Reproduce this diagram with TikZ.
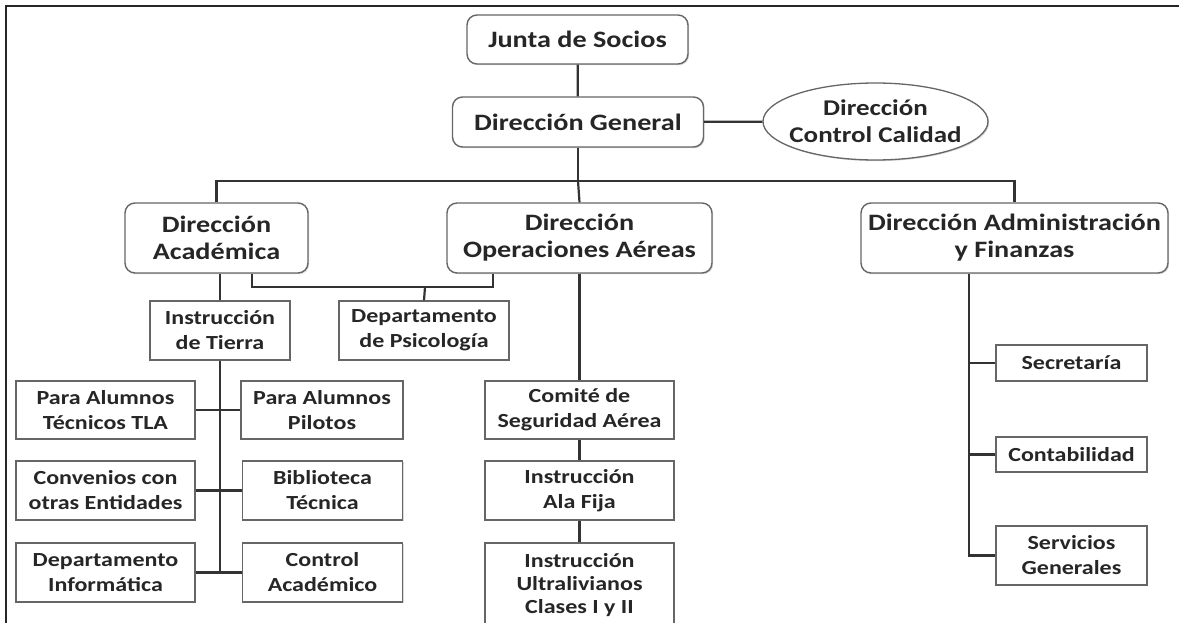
\documentclass[tikz,border=0pt]{standalone}
\usepackage{fontspec}
\setmainfont{Carlito}[FakeStretch=1.2]
\usetikzlibrary{shapes.geometric,shadows}
\tikzset{
  wh/.style 2 args={minimum width=#1pt, minimum height=#2pt},
  boxshadow/.style={drop shadow={shadow xshift=1.2pt, shadow yshift=-1.2pt, opacity=.3}},
  topbox/.style={draw=black!60, line width=1.4pt, rounded corners=10pt, fill=white, boxshadow,
    inner sep=0pt, align=center, text=black!85, font=\bfseries\fontsize{23.5}{27}\selectfont},
  unitbox/.style={draw=black!60, line width=1.3pt, fill=white, boxshadow,
    inner sep=0pt, align=center, text=black!85, font=\bfseries\fontsize{20}{25}\selectfont},
  ovalbox/.style={ellipse, draw=black!60, line width=1.3pt, fill=white, boxshadow, inner sep=0pt},
  conn/.style={draw=black!80, line width=2.2pt}
}
\begin{document}
\begin{tikzpicture}[x=1pt,y=-1pt]
\useasboundingbox (0,0) rectangle (1179,623);
\clip (0,0) rectangle (1179,623);
\draw[line width=2pt, black!85] (1179,6) -- (6,6) -- (6,623);

\node[topbox, wh={221}{49}] (junta) at (577.5,39.5) {Junta de Socios};
\node[topbox, wh={251}{50}] (dirgen) at (578,122) {Dirección General};
\node[ovalbox, wh={225}{77}, label={[align=center, text=black!85, font=\bfseries\fontsize{22.5}{27}\selectfont]center:Dirección\\Control Calidad}] (calidad) at (875.5,121.5) {};
\node[topbox, wh={183}{70}] (dirac) at (216.5,238) {Dirección\\Académica};
\node[topbox, wh={265}{70}] (dirop) at (579.5,238) {Dirección\\Operaciones Aéreas};
\node[topbox, wh={307}{70}] (diradm) at (1014.5,238) {Dirección Administración\\y Finanzas};

\node[unitbox, wh={140}{59}] (tierra) at (220,330.5) {Instrucción\\de Tierra};
\node[unitbox, wh={170}{59}] (psico) at (424,330.5) {Departamento\\de Psicología};
\node[unitbox, wh={179}{58}] (tla) at (105.5,410) {Para Alumnos\\Técnicos TLA};
\node[unitbox, wh={162}{58}] (pilotos) at (322,410) {Para Alumnos\\Pilotos};
\node[unitbox, wh={179}{59}] (convenios) at (105.5,490.5) {Convenios con\\otras Entidades};
\node[unitbox, wh={160}{59}] (biblio) at (322.5,490.5) {Biblioteca\\Técnica};
\node[unitbox, wh={179}{59}] (informatica) at (105.5,572.5) {Departamento\\Informática};
\node[unitbox, wh={160}{59}] (control) at (322.5,572.5) {Control\\Académico};

\node[unitbox, wh={189}{58}] (comite) at (579.5,410) {Comité de\\Seguridad Aérea};
\node[unitbox, wh={189}{59}] (alafija) at (579.5,490.5) {Instrucción\\Ala Fija};
\node[unitbox, wh={189}{84}, font=\bfseries\fontsize{20}{23}\selectfont] (ultra) at (579.5,585) {Instrucción\\Ultralivianos\\Clases I y II};

\node[unitbox, wh={151}{36}] (secretaria) at (1071.5,363) {Secretaría};
\node[unitbox, wh={151}{35}] (contab) at (1071.5,454.5) {Contabilidad};
\node[unitbox, wh={151}{59}] (servicios) at (1071.5,555.5) {Servicios\\Generales};

\coordinate (bus) at (578,181);
\coordinate (psicbus) at (425,287);
\coordinate (admspine) at ([xshift=-45.5pt]diradm.south);

\draw[conn] (junta) -- (dirgen);
\draw[conn] (dirgen) -- (calidad);
\draw[conn] (dirgen.south) -- (bus);
\draw[conn] (dirac.north) |- (bus) -| (diradm.north);
\draw[conn] (bus) -- (dirop.north);

\draw[conn] ([xshift=35.5pt]dirac.south) |- (psicbus) -| ([xshift=-86.5pt]dirop.south);
\draw[conn] (psicbus) -- (psico.north);
\draw[conn] (tierra.north |- dirac.south) -- (tierra.north);
\draw[conn] (tierra.south) -- (tierra.south |- control.west);
\draw[conn] (tla.east) -- (pilotos.west);
\draw[conn] (convenios.east) -- (biblio.west);
\draw[conn] (informatica.east) -- (control.west);

\draw[conn] (dirop.south) -- (comite.north);
\draw[conn] (comite) -- (alafija);
\draw[conn] (alafija) -- (ultra);

\draw[conn] (admspine) |- (servicios.west);
\draw[conn] (secretaria.west) -- (secretaria.west -| admspine);
\draw[conn] (contab.west) -- (contab.west -| admspine);
\end{tikzpicture}
\end{document}
